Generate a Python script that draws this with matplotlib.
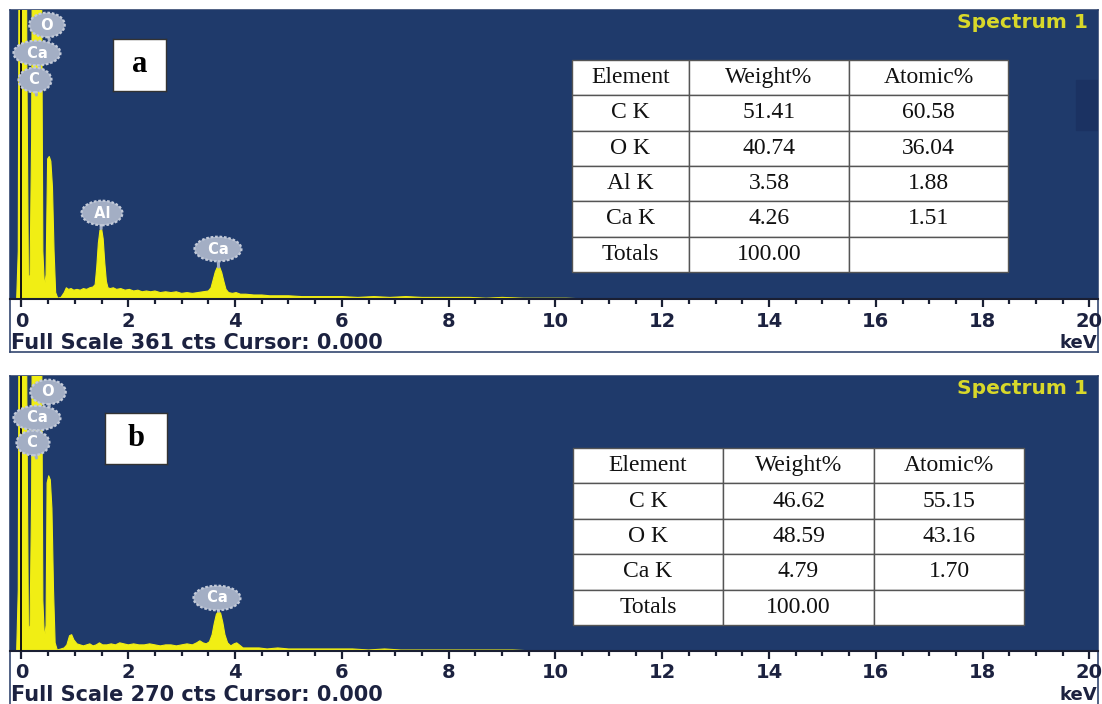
import matplotlib
matplotlib.use('Agg')
import matplotlib.pyplot as plt
from matplotlib.ticker import MultipleLocator

# ---------------- data ----------------
energy_a = [-0.215, -0.09, -0.06, -0.03, 0.02, 0.07, 0.10, 0.13, 0.16, 0.19, 0.23, 0.28, 0.33, 0.37, 0.40,
            0.43, 0.46, 0.49, 0.52, 0.55, 0.58, 0.61, 0.64, 0.68, 0.74, 0.80, 0.84, 0.88, 0.93, 0.98, 1.04,
            1.10, 1.16, 1.22, 1.28, 1.34, 1.38, 1.41, 1.44, 1.47, 1.50, 1.53, 1.56, 1.59, 1.62, 1.66, 1.72,
            1.78, 1.86, 1.94, 2.02, 2.10, 2.18, 2.26, 2.34, 2.42, 2.50, 2.60, 2.70, 2.80, 2.90, 3.00, 3.10,
            3.20, 3.30, 3.40, 3.50, 3.55, 3.59, 3.63, 3.67, 3.71, 3.75, 3.79, 3.83, 3.88, 3.95, 4.02, 4.10,
            4.20, 4.35, 4.50, 4.65, 4.80, 5.00, 5.25, 5.50, 5.75, 6.00, 6.30, 6.60, 6.90, 7.20, 7.50, 7.80,
            8.10, 8.40, 8.70, 9.00, 9.40, 9.80, 10.2, 10.6, 11.0, 20.16]
counts_a = [0, 0, 60, 900, 900, 900, 300, 25, 30, 200, 900, 900, 900, 500, 60,
            15, 30, 175, 178, 172, 140, 60, 8, 1, 2, 8, 14, 12, 13, 11, 12,
            11, 13, 12, 14, 15, 18, 40, 70, 86, 88, 75, 45, 22, 14, 13, 14,
            12, 13, 11, 12, 10, 11, 9, 10, 9, 10, 8, 9, 8, 9, 7, 8,
            7, 8, 9, 10, 14, 24, 34, 40, 40, 33, 22, 12, 8, 7, 8, 6,
            6, 5, 5, 4, 4, 4, 3, 3, 3, 3, 2, 3, 2, 3, 2, 2,
            2, 2, 1, 2, 1, 1, 1, 0, 0, 0]

energy_b = [-0.215, -0.09, -0.06, -0.03, 0.02, 0.07, 0.10, 0.13, 0.16, 0.19, 0.23, 0.28, 0.33, 0.37, 0.40,
            0.43, 0.46, 0.48, 0.51, 0.54, 0.57, 0.60, 0.63, 0.67, 0.74, 0.80, 0.85, 0.90, 0.94, 0.98, 1.04,
            1.10, 1.16, 1.22, 1.28, 1.34, 1.40, 1.46, 1.52, 1.60, 1.68, 1.76, 1.84, 1.92, 2.00, 2.10, 2.20,
            2.30, 2.40, 2.50, 2.60, 2.70, 2.80, 2.90, 3.00, 3.10, 3.20, 3.28, 3.34, 3.40, 3.46, 3.52, 3.57,
            3.61, 3.65, 3.69, 3.73, 3.77, 3.81, 3.86, 3.92, 3.98, 4.03, 4.08, 4.15, 4.30, 4.45, 4.60, 4.80,
            5.00, 5.30, 5.60, 5.90, 6.20, 6.50, 6.80, 7.10, 7.40, 7.70, 8.00, 8.40, 8.80, 9.20, 9.60, 10.0,
            10.4, 20.16]
counts_b = [0, 0, 60, 700, 700, 700, 250, 20, 25, 150, 700, 700, 700, 400, 50,
            12, 25, 165, 172, 168, 140, 60, 8, 1, 2, 3, 6, 15, 16, 11, 7,
            6, 5, 6, 7, 5, 6, 8, 6, 6, 7, 6, 8, 7, 6, 7, 6,
            6, 7, 6, 5, 6, 6, 5, 6, 7, 6, 8, 10, 8, 7, 9, 16,
            27, 36, 39, 37, 28, 16, 8, 5, 7, 8, 6, 3, 3, 3, 2, 3,
            2, 2, 2, 2, 2, 1, 2, 1, 1, 1, 1, 1, 1, 1, 0, 0,
            0, 0]

full_scale_a = 361
full_scale_b = 270

peak_labels_a = ['O', 'Ca', 'C', 'Al', 'Ca']
peak_energy_a = [0.52, 0.34, 0.28, 1.49, 3.69]
peak_labels_b = ['O', 'Ca', 'C', 'Ca']
peak_energy_b = [0.52, 0.34, 0.28, 3.69]

col_labels = ['Element', 'Weight%', 'Atomic%']
elements_a = ['C K', 'O K', 'Al K', 'Ca K', 'Totals']
weight_a = ['51.41', '40.74', '3.58', '4.26', '100.00']
atomic_a = ['60.58', '36.04', '1.88', '1.51', '']
elements_b = ['C K', 'O K', 'Ca K', 'Totals']
weight_b = ['46.62', '48.59', '4.79', '100.00']
atomic_b = ['55.15', '43.16', '1.70', '']

# ---------------- style ----------------
W, H = 1102, 704
BLUE = '#1f3a6b'
YELLOW = '#f1ee14'
BADGE = '#a3aec4'
TXT = '#1c2240'

fig = plt.figure(figsize=(W / 100, H / 100), dpi=100)
fig.patch.set_facecolor('white')


def pax(x0, y0, x1, y1, **kw):
    return fig.add_axes([x0 / W, 1 - y1 / H, (x1 - x0) / W, (y1 - y0) / H], **kw)


def panel(top, base, frame_bottom, energy, counts, fs, letter, letter_box,
          labels, label_e, label_pos, peak_tops, table_box, rows, colw, dark_rect=False):
    # outer white frame
    fr = pax(10, top, 1098, frame_bottom)
    fr.set_xticks([]); fr.set_yticks([])
    for s in fr.spines.values():
        s.set_color('#34476f'); s.set_linewidth(1.2)
    fr.set_zorder(0)

    ax = pax(10, top, 1098, base)
    ax.set_facecolor(BLUE)
    ax.set_xlim(-0.215, 20.16)
    ax.set_ylim(0, fs)
    ax.fill_between(energy, counts, 0, color=YELLOW, lw=0.8, edgecolor=YELLOW, zorder=2)
    ax.axvline(0.0, color='#111111', lw=1.4, zorder=3)
    for side in ['top', 'left', 'right']:
        ax.spines[side].set_visible(False)
    ax.spines['bottom'].set_color('#1a1f33')
    ax.spines['bottom'].set_linewidth(1.5)
    ax.set_yticks([])
    ax.xaxis.set_minor_locator(MultipleLocator(0.5))
    ticks = list(range(0, 21, 2))
    ax.set_xticks(ticks)
    ax.set_xticklabels([str(t) for t in ticks], fontweight='bold', family='DejaVu Sans')
    ax.tick_params(axis='x', which='major', direction='out', length=6, width=1.6,
                   color='#1a1f33', labelsize=14, labelcolor=TXT, pad=3.0)
    ax.tick_params(axis='x', which='minor', direction='out', length=3.5, width=1.6, color='#1a1f33')
    ax.set_zorder(1)

    if dark_rect:
        ax.axvspan(19.75, 20.16, ymin=(base - 130) / (base - top), ymax=(base - 80) / (base - top),
                   color='#1b3262', zorder=1)

    for lab, e, (tx, ty), pt in zip(labels, label_e, label_pos, peak_tops):
        ax.annotate(' ' + lab + ' ', xy=(e, pt), xytext=(tx, ty), ha='center', va='center',
                    color='white', fontsize=10.5, fontweight='bold', zorder=5,
                    bbox=dict(boxstyle='ellipse,pad=0.08', fc=BADGE, ec='#c3cad8', lw=1.6, ls=(0, (1.2, 0.8))),
                    arrowprops=dict(arrowstyle='-', color=BADGE, lw=2.2, shrinkA=0, shrinkB=0))

    # letter box
    lx0, ly0, lx1, ly1 = letter_box
    lab_ax = pax(lx0, ly0, lx1, ly1)
    lab_ax.set_xticks([]); lab_ax.set_yticks([])
    lab_ax.set_facecolor('white')
    for s in lab_ax.spines.values():
        s.set_color('#333333'); s.set_linewidth(1)
    lab_ax.text(0.5, 0.5, letter, ha='center', va='center', fontsize=22, fontweight='bold',
                family='Liberation Serif', color='black', transform=lab_ax.transAxes)
    lab_ax.set_zorder(3)

    # spectrum title
    fig.text(1088 / W, 1 - (top + 12) / H, 'Spectrum 1', ha='right', va='center', fontsize=14.5,
             fontweight='bold', color='#d8d82a', family='DejaVu Sans', zorder=6)

    # full scale text
    fig.text(11 / W, 1 - (base + 44) / H, 'Full Scale %d cts Cursor: 0.000' % fs, ha='left', va='center',
             fontsize=15, fontweight='bold', color=TXT, family='DejaVu Sans', zorder=6)
    fig.text(1097 / W, 1 - (base + 44) / H, 'keV', ha='right', va='center',
             fontsize=13, fontweight='bold', color=TXT, family='DejaVu Sans', zorder=6)

    # table
    tx0, ty0, tx1, ty1 = table_box
    tax = pax(tx0, ty0, tx1, ty1)
    tax.axis('off')
    tax.set_zorder(3)
    tbl = tax.table(cellText=rows, colLabels=col_labels, cellLoc='center', colWidths=colw,
                    bbox=[0, 0, 1, 1])
    tbl.auto_set_font_size(False)
    for (r, c), cell in tbl.get_celld().items():
        cell.set_edgecolor('#555555')
        cell.set_linewidth(1)
        cell.set_facecolor('white')
        cell.get_text().set_fontfamily('Liberation Serif')
        cell.get_text().set_fontsize(17)
        cell.get_text().set_color('#111111')


def px2e(px):
    return (px - 21.5) / 53.4


def py2c(py, top, base, fs):
    return (base - py) / (base - top) * fs


# panel a
top_a, base_a = 10, 299
rows_a = [list(r) for r in zip(elements_a, weight_a, atomic_a)]
pos_a = [(px2e(47), py2c(25, top_a, base_a, full_scale_a)),
         (px2e(37), py2c(53, top_a, base_a, full_scale_a)),
         (px2e(35), py2c(80, top_a, base_a, full_scale_a)),
         (px2e(102), py2c(213, top_a, base_a, full_scale_a)),
         (px2e(218), py2c(249, top_a, base_a, full_scale_a))]
tops_a = [py2c(40, top_a, base_a, full_scale_a), py2c(68, top_a, base_a, full_scale_a),
          py2c(95, top_a, base_a, full_scale_a), 88, 40]
panel(top_a, base_a, 352, energy_a, counts_a, full_scale_a, 'a', (113, 39, 166, 91),
      peak_labels_a, peak_energy_a, pos_a, tops_a, (572, 60, 1008, 272), rows_a,
      [117, 160, 159], dark_rect=True)

# panel b
top_b, base_b = 376, 651
rows_b = [list(r) for r in zip(elements_b, weight_b, atomic_b)]
pos_b = [(px2e(48), py2c(392, top_b, base_b, full_scale_b)),
         (px2e(37), py2c(418, top_b, base_b, full_scale_b)),
         (px2e(33), py2c(443, top_b, base_b, full_scale_b)),
         (px2e(217), py2c(598, top_b, base_b, full_scale_b))]
tops_b = [py2c(407, top_b, base_b, full_scale_b), py2c(433, top_b, base_b, full_scale_b),
          py2c(458, top_b, base_b, full_scale_b), 39]
panel(top_b, base_b, 710, energy_b, counts_b, full_scale_b, 'b', (105, 413, 167, 464),
      peak_labels_b, peak_energy_b, pos_b, tops_b, (573, 448, 1024, 625), rows_b,
      [150, 151, 150])

fig.savefig('out.png', dpi=100, facecolor='white')
